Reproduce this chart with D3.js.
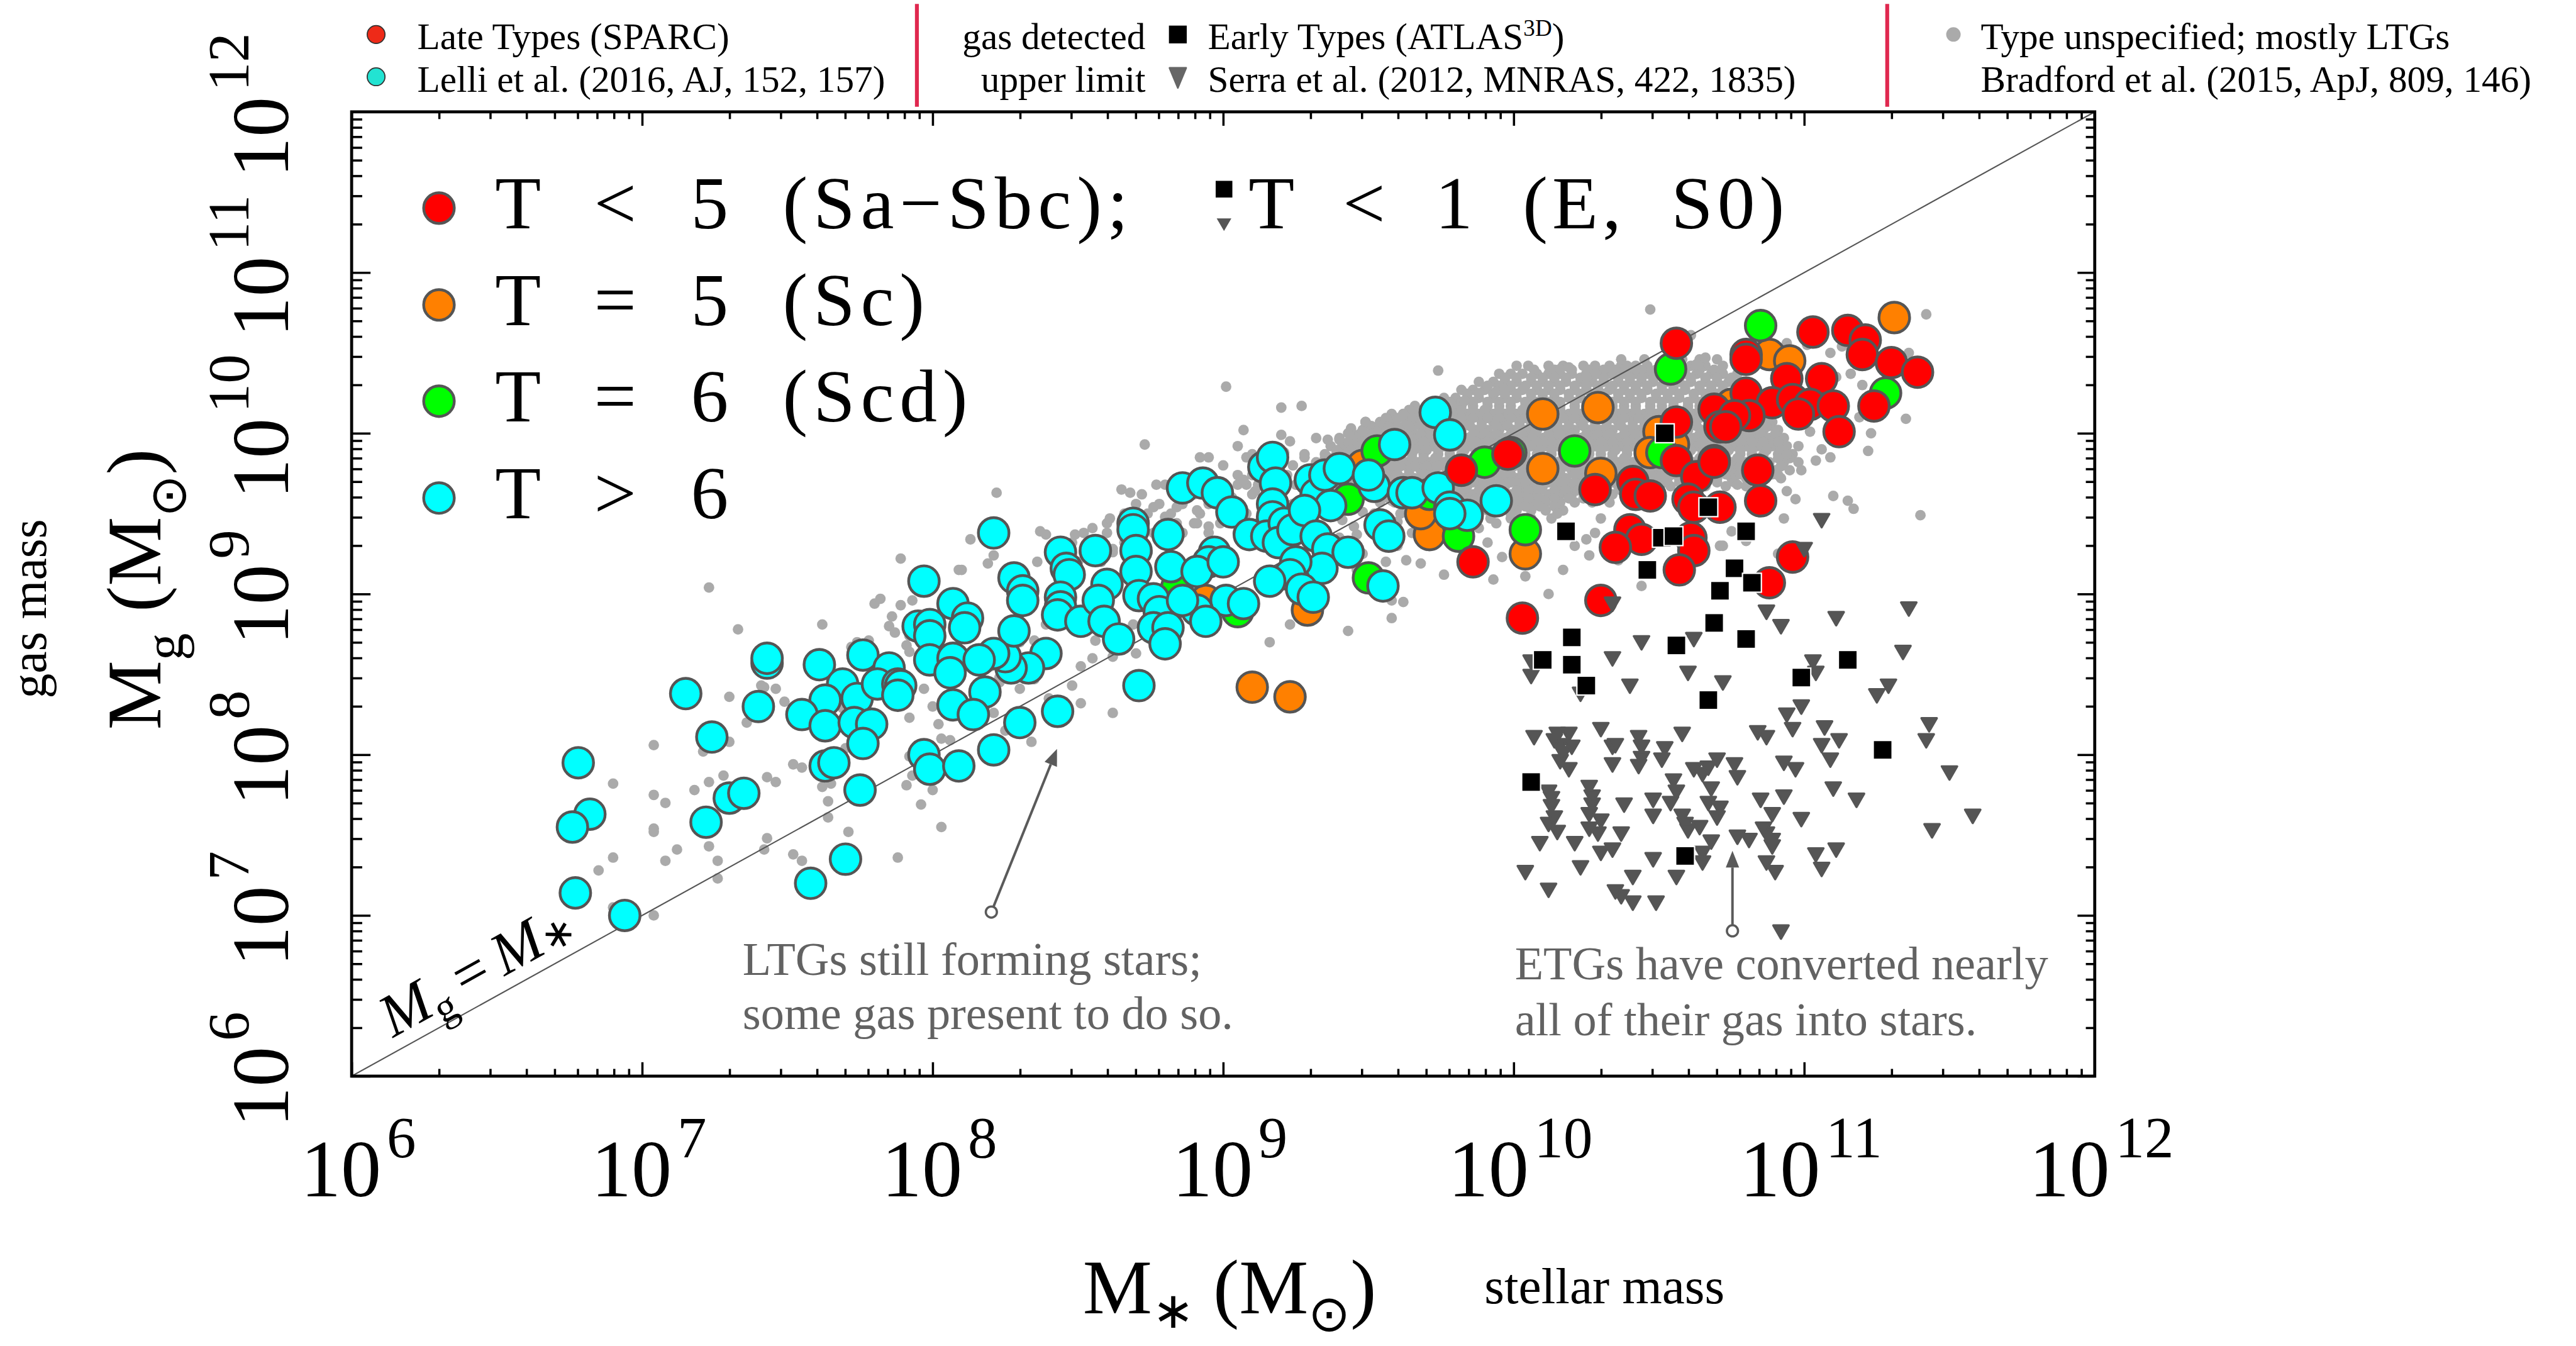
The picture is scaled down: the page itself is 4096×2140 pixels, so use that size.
<!DOCTYPE html>
<html><head><meta charset="utf-8">
<script src="https://cdn.jsdelivr.net/npm/d3@7/dist/d3.min.js"></script>
<style>
html,body{margin:0;padding:0;background:#fff;}
svg{display:block;}
text{font-family:'Liberation Serif','Times New Roman',serif;}
</style></head><body>
<svg id="chart" width="4096" height="2140"></svg>
<script>
// ---------------- DATA (log10 M*, log10 Mg) ----------------
const tickExponents = [6,7,8,9,10,11,12];

const cyanT6 = [
[7.97,9.08],[8.07,8.94],[7.95,8.80],[7.99,8.81],[7.99,8.74],[7.99,8.59],[8.07,8.60],[8.06,8.51],[8.07,8.31],
[7.43,8.57],[7.43,8.60],[7.61,8.56],[7.76,8.62],[7.69,8.44],[7.63,8.34],[7.74,8.35],[7.55,8.25],[7.63,8.18],[7.73,8.20],[7.79,8.19],[7.76,8.07],[7.85,8.54],[7.81,8.44],[7.88,8.44],[7.89,8.43],[7.88,8.37],
[7.15,8.38],[7.40,8.30],[7.24,8.11],[6.78,7.95],[6.82,7.63],[6.76,7.55],[6.77,7.14],[6.94,7.00],[7.22,7.58],[7.30,7.73],[7.35,7.76],[7.63,7.93],[7.66,7.95],[7.75,7.78],[7.70,7.35],[7.58,7.20],[7.97,8.00],[7.99,7.91],[8.09,7.93],
[8.21,9.38],[8.28,9.10],[8.31,9.02],[8.31,8.96],[8.44,9.26],[8.46,9.16],[8.47,9.12],[8.56,9.27],[8.44,8.98],[8.44,8.92],[8.43,8.87],[8.51,8.83],[8.60,9.06],[8.57,8.96],[8.59,8.83],[8.64,8.72],
[8.69,9.44],[8.69,9.40],[8.70,9.27],[8.70,9.14],[8.71,8.99],[8.76,8.97],[8.78,8.89],[8.76,8.79],[8.81,8.79],[8.80,8.69],[8.81,9.37],[8.82,9.17],[8.86,9.66],[8.93,9.69],[8.98,9.63],[9.03,9.51],[9.09,9.37],
[9.14,9.79],[9.17,9.85],[9.18,9.69],[9.17,9.56],[9.17,9.48],[9.15,9.36],[9.21,9.44],[9.19,9.32],[9.24,9.40],[9.30,9.71],[9.32,9.62],[9.37,9.55],[9.35,9.74],[9.28,9.52],[9.32,9.36],[9.36,9.28],[9.34,9.16],[9.25,9.20],[9.23,9.12],[9.16,9.08],[9.27,9.03],[9.31,8.98],
[8.97,9.26],[8.95,9.20],[8.91,9.14],[9.00,9.20],[9.01,8.96],[9.07,8.94],[8.91,8.90],[8.94,8.83],[8.86,8.96],[8.71,8.43],[8.43,8.27],[8.30,8.20],[8.21,8.03],
[8.39,8.63],[8.33,8.54],[8.27,8.54],[8.25,8.61],[8.28,8.77],[8.21,8.63],[8.18,8.39],[8.16,8.59],[8.12,8.85],[8.11,8.79],[8.14,8.25],
[9.73,10.13],[9.78,9.99],[9.59,9.93],[9.40,9.78],[9.52,9.67],[9.50,9.74],[9.62,9.63],[9.65,9.63],[9.74,9.66],[9.78,9.54],[9.84,9.49],[9.78,9.50],[9.94,9.58],[9.54,9.43],[9.57,9.36],[9.43,9.26],[9.55,9.05]
];

const greenT6 = [
[8.84,9.04],[9.05,8.89],[9.53,9.89],[9.43,9.59],[9.90,9.82],[9.99,9.88],[10.21,9.89],[10.04,9.40],[9.81,9.36],[9.50,9.10],[10.54,10.40],[10.51,9.88],[9.71,9.62],[10.85,10.67],[11.28,10.25]
];

const orangeT5 = [
[9.10,8.42],[9.23,8.36],[8.94,8.96],[9.29,8.90],[10.10,10.12],[10.29,10.16],[10.10,9.78],[10.30,9.75],[9.71,9.37],[9.68,9.50],[10.04,9.25],[10.50,10.01],[10.47,9.88],[10.55,9.93],[9.48,9.80],
[11.31,10.72],[10.88,10.49],[10.95,10.45],[10.75,10.18]
];

const redT5 = [
[10.56,10.56],[9.82,9.77],[9.98,9.87],[9.86,9.20],[10.03,8.85],[10.30,8.96],[10.28,9.65],[10.41,9.70],[10.42,9.62],[10.47,9.61],[10.40,9.40],[10.44,9.34],[10.35,9.29],
[10.56,10.07],[10.69,10.15],[10.71,10.04],[10.56,9.83],[10.63,9.73],[10.69,9.83],[10.60,9.59],[10.62,9.54],[10.61,9.35],[10.62,9.27],[10.57,9.15],[10.71,9.54],
[10.80,10.49],[10.80,10.46],[11.03,10.63],[11.15,10.64],[11.21,10.58],[11.20,10.49],[11.30,10.44],[11.39,10.38],[10.94,10.34],[11.06,10.34],[10.80,10.25],[10.89,10.19],[10.96,10.21],[11.02,10.18],[11.10,10.17],[10.98,10.12],[11.12,10.01],[11.24,10.17],[10.81,10.11],[10.76,10.11],[10.73,10.04],[10.69,9.82],[10.84,9.77],[10.85,9.58],[10.96,9.23],[10.88,9.07]
];

const etgDetected = [
[10.52,10.00],[10.67,9.54],[10.18,9.39],[10.51,9.35],[10.55,9.36],[10.46,9.15],[10.71,9.02],[10.69,8.82],[10.20,8.73],[10.10,8.59],[10.20,8.56],[10.25,8.43],[10.56,8.68],[10.80,9.39],[10.76,9.16],[10.82,9.07],[10.80,8.72],[11.15,8.59],[10.99,8.48],[10.67,8.34],[11.27,8.03],[10.06,7.83],[10.59,7.37]
];

const etgUpper = [
[10.34,8.95],[10.44,8.71],[10.34,8.61],[10.62,8.73],[10.60,8.52],[10.40,8.44],[10.06,8.50],[10.06,8.59],
[11.06,9.47],[11.00,9.29],[10.87,8.90],[10.92,8.81],[11.11,8.86],[11.36,8.92],[11.34,8.65],[11.03,8.59],[11.04,8.52],[10.72,8.46],[11.29,8.44],[11.25,8.38],[10.23,8.39],
[10.99,8.31],[10.94,8.26],[10.96,8.17],[11.43,8.20],[11.42,8.10],[11.07,8.18],[11.06,8.07],[11.12,8.10],[11.09,7.98],[10.84,8.15],[10.87,8.12],[10.93,7.96],[10.97,7.92],[11.50,7.90],[11.10,7.80],[11.18,7.73],[10.93,7.75],[10.85,7.73],[10.89,7.64],[10.99,7.61],[11.58,7.63],[11.44,7.54],[11.11,7.42],[11.04,7.39],[11.06,7.30],[10.87,7.34],[10.90,7.28],[10.87,7.52],[10.89,7.48],[10.77,7.50],[10.81,7.48],[10.92,6.91],
[10.07,8.12],[10.15,8.14],[10.19,8.14],[10.16,8.07],[10.20,8.06],[10.16,7.97],[10.19,7.92],[10.30,8.17],[10.34,8.06],[10.35,8.07],[10.34,7.95],[10.43,8.12],[10.44,8.06],[10.43,7.94],[10.52,8.05],[10.51,7.98],[10.58,8.14],
[10.26,7.81],[10.27,7.70],[10.26,7.64],[10.26,7.55],[10.29,7.52],[10.12,7.78],[10.13,7.69],[10.12,7.58],[10.15,7.53],[10.09,7.46],[10.21,7.46],[10.30,7.40],[10.34,7.42],[10.37,7.52],[10.48,7.73],[10.48,7.63],[10.38,7.70],[10.54,7.71],[10.55,7.85],[10.56,7.78],
[10.62,7.92],[10.65,7.89],[10.67,7.93],[10.70,7.98],[10.68,7.80],[10.76,7.95],[10.77,7.87],[10.67,7.71],[10.70,7.62],[10.59,7.58],[10.60,7.54],[10.64,7.56],[10.68,7.47],[10.65,7.34],[10.48,7.36],[10.56,7.25],[10.41,7.25],[10.37,7.13],[10.41,7.09],[10.49,7.09],[10.35,7.16],[10.23,7.31],[10.12,7.17],[10.04,7.28],[10.65,7.40],
[10.14,8.10],[10.17,8.02],[10.13,7.74],[10.14,7.62],[10.27,7.75],[10.30,7.60],[10.44,7.99],[10.58,7.63],[10.71,7.68],[10.86,7.55],[10.89,7.44]
];

// Bradford et al. individually resolved dots
const bradfordDots = [
[7.23,9.04],[7.33,8.78],[7.62,8.81],[7.80,8.94],[7.82,8.97],[7.89,8.93],[7.86,8.86],[7.85,8.80],[7.87,8.76],[7.91,8.68],[7.93,8.96],[7.74,8.70],[7.78,8.71],[7.72,8.67],[7.92,8.64],[7.92,8.74],[7.42,8.42],[7.46,8.41],[7.41,8.43],[7.30,8.36],[7.49,8.33],[7.36,8.20],[7.30,8.08],[7.21,8.02],[7.04,8.06],[7.67,8.33],[7.69,8.29],[7.97,8.41],[8.00,8.30],[7.92,8.23],[8.02,8.19],[8.03,8.10],[8.06,8.09],[7.92,7.99],[7.93,7.87],[7.91,7.81],[8.00,7.78],[7.96,7.69],[8.03,7.55],[7.88,7.36],[7.52,7.94],[7.55,7.92],[7.43,7.86],[7.46,7.83],[7.62,7.80],[7.65,7.82],[7.64,7.71],[7.64,7.61],[7.71,7.52],[7.70,8.04],[7.28,7.87],[7.23,7.83],[7.18,7.78],[7.04,7.75],[7.08,7.70],[6.90,7.82],[7.04,7.54],[7.04,7.52],[7.12,7.41],[7.23,7.43],[7.08,7.34],[7.26,7.34],[6.90,7.36],[6.85,7.28],[7.43,7.48],[7.42,7.41],[7.52,7.38],[7.55,7.34],[7.26,7.23],[7.04,7.00],[6.90,7.05],[8.09,9.15],[7.89,9.22],
[9.01,10.29],[9.20,10.16],[9.27,10.17],[9.07,10.02],[8.73,9.93],[8.92,9.85],[8.95,9.85],[9.05,9.92],[9.20,9.99],[9.23,9.95],[9.28,9.87],[9.32,9.97],[9.36,9.96],[8.77,9.68],[8.65,9.65],[8.68,9.63],[8.22,9.63],[8.76,9.54],[8.84,9.54],[8.91,9.52],[8.91,9.44],[8.88,9.60],[8.80,9.48],[8.95,9.42],[9.05,9.68],[9.07,9.71],[9.11,9.64],[9.03,9.60],[9.10,9.87],[9.21,9.88],[9.36,9.85],[8.61,9.47],[8.55,9.41],[8.49,9.37],[8.37,9.39],[8.39,9.37],[8.13,9.34],[8.21,9.24],[8.19,9.19],[8.10,9.15],[8.62,9.28],[9.07,9.44],
[9.23,8.81],[9.16,8.70],[8.62,8.26],[8.51,8.32],[8.48,8.43],[8.55,8.60],[8.51,8.55],[8.35,8.47],[8.34,8.08],[8.23,8.48],[8.21,8.39],[8.21,8.26],[8.56,8.71],[8.62,8.61],[8.39,8.81],[8.35,8.71],[8.34,8.61],[8.69,8.81],[8.70,8.63],
[8.16,8.20],[8.18,8.30],[8.23,8.45],[8.30,8.41],[8.40,8.35],[8.25,8.15],[8.20,8.55],[8.30,8.70],
[10.47,10.77],[9.74,10.39],[9.62,10.12],[9.49,10.07],[9.44,10.03],[9.40,9.96],[9.43,10.00],[9.48,10.01],[9.53,10.01],[9.57,10.04],[9.64,9.98],[9.66,9.90],[9.42,9.87],[9.47,9.81],[9.59,9.80],[9.44,9.55],[9.48,9.51],[9.61,9.50],[9.41,9.46],[9.46,9.37],[9.60,9.30],
[9.40,9.35],[9.45,9.42],[9.48,9.25],[9.52,9.50],[9.60,9.45],[9.65,9.38],[9.70,9.30],[9.38,9.50],[9.46,9.15],[9.58,9.58],[9.66,9.55],[9.72,9.48],
[9.83,10.20],[9.88,10.25],[9.94,10.26],[9.97,10.27],[10.16,10.40],[10.19,10.41],[10.28,10.37],[10.25,10.35],[10.39,10.42],[10.42,10.40],[10.66,10.47],[10.63,10.43],[10.61,10.61],
[9.76,9.12],[9.63,9.21],[9.68,9.19],[9.56,9.20],[9.58,8.96],[9.62,8.95],[9.58,8.85],[9.43,8.77],[9.93,9.09],[10.04,9.11],[10.12,9.00],[10.17,9.15],[10.26,9.24],[10.28,9.38],[10.30,9.47],[10.21,9.30],[10.15,9.50],[9.99,9.50],[9.94,9.44],[9.91,9.32],[10.44,9.05],[10.71,9.30],[10.36,9.21],[10.25,9.34],[9.88,9.41],[9.96,9.23],[10.07,9.39],
[11.42,10.74],[11.36,10.50],[11.16,10.37],[11.20,10.30],[11.19,10.10],[11.35,10.09],[11.23,10.00],[11.22,9.89],[11.09,9.85],[11.04,9.83],[10.99,9.77],[11.10,9.61],[11.15,9.58],[11.17,9.53],[11.40,9.49],[10.97,9.59],[10.94,9.64],[10.93,9.47],[10.75,9.39],[10.72,9.30],[10.80,9.33],[10.91,9.25],[10.91,9.74],[10.77,9.68],[11.09,10.50],[11.13,10.54],[11.01,10.55],[10.94,10.56],[11.08,10.34],[11.11,10.35],[11.02,10.01],[10.98,9.92],[11.06,9.90],[10.94,9.87],[10.87,10.04]
];

// Bradford et al. dense cloud, read row by row: [log Mg, [log M* ...]]
const bradfordCloudRows = [
[10.46,[10.37,10.45,10.52,10.58,10.64,10.70]],
[10.42,[10.01,10.05,10.12,10.17,10.24,10.28,10.33,10.37,10.42,10.46,10.51,10.57,10.61,10.66,10.72]],
[10.37,[9.95,9.99,10.03,10.08,10.12,10.16,10.20,10.25,10.29,10.33,10.38,10.42,10.46,10.50,10.55,10.59,10.63,10.68,10.72,10.77]],
[10.32,[9.88,9.93,9.97,10.01,10.06,10.10,10.14,10.18,10.23,10.27,10.31,10.36,10.40,10.44,10.48,10.53,10.57,10.61,10.66,10.70,10.74,10.79]],
[10.27,[9.82,9.86,9.90,9.95,9.99,10.03,10.08,10.12,10.16,10.21,10.25,10.29,10.33,10.38,10.42,10.46,10.51,10.55,10.59,10.64,10.68,10.72,10.77,10.81]],
[10.22,[9.76,9.80,9.84,9.88,9.93,9.97,10.01,10.06,10.10,10.14,10.19,10.23,10.27,10.31,10.36,10.40,10.44,10.49,10.53,10.57,10.62,10.66,10.70,10.75,10.79,10.83]],
[10.17,[9.66,9.71,9.75,9.79,9.82,9.86,9.91,9.95,9.99,10.04,10.08,10.12,10.16,10.21,10.25,10.29,10.34,10.38,10.42,10.47,10.51,10.55,10.60,10.64,10.68,10.73,10.77,10.81,10.86]],
[10.12,[9.58,9.62,9.67,9.71,9.75,9.80,9.84,9.88,9.93,9.97,10.01,10.06,10.10,10.14,10.19,10.23,10.27,10.32,10.36,10.40,10.45,10.49,10.53,10.58,10.62,10.66,10.71,10.75,10.79,10.84,10.88]],
[10.07,[9.49,9.54,9.58,9.63,9.67,9.71,9.76,9.80,9.84,9.89,9.93,9.97,10.02,10.06,10.10,10.15,10.19,10.23,10.28,10.32,10.36,10.41,10.45,10.49,10.54,10.58,10.62,10.67,10.71,10.75,10.80,10.84,10.89]],
[10.02,[9.44,9.48,9.52,9.57,9.61,9.65,9.70,9.74,9.78,9.82,9.87,9.91,9.95,10.00,10.04,10.08,10.13,10.17,10.21,10.26,10.30,10.34,10.39,10.43,10.47,10.52,10.56,10.60,10.65,10.69,10.73,10.78,10.82,10.86,10.91]],
[9.97,[9.40,9.45,9.49,9.53,9.58,9.62,9.66,9.71,9.75,9.79,9.84,9.88,9.92,9.97,10.01,10.05,10.10,10.14,10.18,10.23,10.27,10.31,10.36,10.40,10.44,10.49,10.53,10.57,10.62,10.66,10.70,10.75,10.79,10.83,10.88,10.93]],
[9.92,[9.37,9.41,9.46,9.50,9.54,9.59,9.63,9.67,9.72,9.76,9.80,9.85,9.89,9.93,9.98,10.02,10.06,10.11,10.15,10.19,10.24,10.28,10.32,10.37,10.41,10.45,10.50,10.54,10.58,10.63,10.67,10.71,10.76,10.80,10.84,10.89,10.94]],
[9.87,[9.35,9.39,9.43,9.48,9.52,9.56,9.61,9.65,9.69,9.74,9.78,9.82,9.87,9.91,9.95,10.00,10.04,10.08,10.13,10.17,10.21,10.26,10.30,10.34,10.39,10.43,10.47,10.52,10.56,10.60,10.65,10.69,10.73,10.78,10.82,10.86,10.91,10.96]],
[9.82,[9.32,9.37,9.41,9.45,9.50,9.54,9.58,9.63,9.67,9.71,9.76,9.80,9.84,9.89,9.93,9.97,10.02,10.06,10.10,10.15,10.19,10.23,10.28,10.32,10.36,10.41,10.45,10.49,10.54,10.58,10.62,10.67,10.71,10.75,10.80,10.84,10.88,10.93,10.98]],
[9.77,[9.33,9.38,9.42,9.46,9.51,9.55,9.59,9.64,9.68,9.72,9.77,9.81,9.85,9.90,9.94,9.98,10.03,10.07,10.11,10.16,10.20,10.24,10.29,10.33,10.37,10.42,10.46,10.50,10.55,10.59,10.63,10.68,10.72,10.76,10.81,10.85,10.90,10.95]],
[9.72,[9.36,9.40,9.45,9.49,9.53,9.58,9.62,9.66,9.71,9.75,9.79,9.84,9.88,9.92,9.97,10.01,10.05,10.10,10.14,10.18,10.23,10.27,10.31,10.36,10.40,10.44,10.49,10.53,10.57,10.62,10.66,10.70,10.75,10.80,10.86,10.92]],
[9.67,[9.41,9.45,9.50,9.54,9.58,9.63,9.67,9.71,9.76,9.80,9.84,9.89,9.93,9.97,10.02,10.06,10.10,10.15,10.19,10.23,10.28,10.32,10.36,10.41,10.45,10.49,10.54,10.60,10.66,10.73,10.80]],
[9.62,[9.46,9.51,9.55,9.60,9.64,9.68,9.73,9.77,9.81,9.86,9.90,9.94,9.99,10.03,10.07,10.12,10.16,10.20,10.25,10.29,10.34,10.40,10.46]],
[9.57,[9.54,9.59,9.63,9.68,9.72,9.76,9.81,9.85,9.89,9.94,9.98,10.02,10.07,10.11,10.16,10.21,10.27,10.33]],
[9.52,[9.66,9.71,9.76,9.81,9.86,9.91,9.96,10.01,10.06,10.11,10.17]],
[9.47,[9.78,9.85,9.92,9.99,10.06,10.13]],
[10.395,[10.07,10.14,10.20,10.26,10.31,10.35,10.40,10.44,10.49,10.54,10.59,10.64,10.69]],
[10.345,[9.97,10.01,10.06,10.10,10.14,10.18,10.23,10.27,10.31,10.36,10.40,10.44,10.48,10.53,10.57,10.61,10.66,10.70,10.75]],
[10.295,[9.91,9.95,9.99,10.04,10.08,10.12,10.16,10.21,10.25,10.29,10.34,10.38,10.42,10.46,10.51,10.55,10.59,10.64,10.68,10.72,10.77]],
[10.245,[9.84,9.88,9.93,9.97,10.01,10.06,10.10,10.14,10.19,10.23,10.27,10.31,10.36,10.40,10.44,10.49,10.53,10.57,10.62,10.66,10.70,10.75,10.79]],
[10.195,[9.73,9.78,9.82,9.86,9.91,9.95,9.99,10.04,10.08,10.12,10.16,10.21,10.25,10.29,10.34,10.38,10.42,10.47,10.51,10.55,10.60,10.64,10.68,10.73,10.77,10.81]],
[10.145,[9.64,9.69,9.73,9.77,9.82,9.86,9.90,9.95,9.99,10.03,10.08,10.12,10.16,10.21,10.25,10.29,10.34,10.38,10.42,10.47,10.51,10.55,10.60,10.64,10.68,10.73,10.77,10.81,10.86]],
[10.095,[9.56,9.60,9.65,9.69,9.73,9.78,9.82,9.86,9.91,9.95,9.99,10.04,10.08,10.12,10.17,10.21,10.25,10.30,10.34,10.38,10.43,10.47,10.51,10.56,10.60,10.64,10.69,10.73,10.77,10.82,10.86]],
[10.045,[9.51,9.55,9.60,9.64,9.68,9.72,9.77,9.81,9.85,9.89,9.94,9.98,10.02,10.06,10.11,10.15,10.19,10.24,10.28,10.32,10.37,10.41,10.45,10.50,10.54,10.58,10.63,10.67,10.71,10.76,10.80,10.84,10.88]],
[9.995,[9.47,9.51,9.55,9.60,9.64,9.68,9.73,9.77,9.81,9.86,9.90,9.94,9.99,10.03,10.07,10.12,10.16,10.20,10.25,10.29,10.33,10.38,10.42,10.46,10.51,10.55,10.59,10.64,10.68,10.72,10.77,10.81,10.85,10.90]],
[9.945,[9.43,9.48,9.52,9.56,9.61,9.65,9.69,9.74,9.78,9.82,9.87,9.91,9.95,10.00,10.04,10.08,10.13,10.17,10.21,10.26,10.30,10.34,10.39,10.43,10.47,10.52,10.56,10.60,10.65,10.69,10.73,10.78,10.82,10.86,10.91]],
[9.895,[9.39,9.44,9.48,9.52,9.57,9.61,9.65,9.70,9.74,9.78,9.83,9.87,9.91,9.96,10.00,10.04,10.09,10.13,10.17,10.22,10.26,10.30,10.35,10.39,10.43,10.48,10.52,10.56,10.61,10.65,10.69,10.74,10.78,10.82,10.87,10.92]],
[9.845,[9.35,9.39,9.43,9.47,9.52,9.56,9.60,9.65,9.69,9.73,9.78,9.82,9.86,9.91,9.95,9.99,10.04,10.08,10.12,10.17,10.21,10.25,10.30,10.34,10.38,10.43,10.47,10.51,10.56,10.60,10.64,10.69,10.73,10.77,10.82,10.86,10.91,10.95]],
[9.795,[9.35,9.40,9.44,9.48,9.53,9.57,9.61,9.66,9.70,9.74,9.79,9.83,9.87,9.92,9.96,10.00,10.05,10.09,10.13,10.18,10.22,10.26,10.31,10.35,10.39,10.44,10.48,10.52,10.57,10.61,10.65,10.70,10.74,10.78,10.83,10.87,10.92]],
[9.745,[9.38,9.43,9.47,9.51,9.56,9.60,9.64,9.69,9.73,9.77,9.82,9.86,9.90,9.95,9.99,10.03,10.08,10.12,10.16,10.21,10.25,10.29,10.34,10.38,10.42,10.47,10.51,10.55,10.60,10.64,10.68,10.73,10.78,10.83,10.89]],
[9.695,[9.43,9.47,9.52,9.56,9.60,9.65,9.69,9.73,9.78,9.82,9.86,9.91,9.95,9.99,10.04,10.08,10.12,10.17,10.21,10.25,10.30,10.34,10.38,10.43,10.47,10.52,10.57,10.63,10.70,10.76]],
[9.645,[9.49,9.53,9.57,9.62,9.66,9.70,9.75,9.79,9.83,9.88,9.92,9.96,10.01,10.05,10.09,10.14,10.18,10.22,10.27,10.31,10.37,10.43]],
[9.595,[9.57,9.61,9.66,9.70,9.74,9.79,9.83,9.87,9.92,9.96,10.00,10.05,10.09,10.14,10.19,10.24,10.30]],
[9.545,[9.69,9.74,9.79,9.84,9.89,9.94,9.99,10.04,10.09,10.14]],
[9.85,[9.08,9.20,9.28]],
[9.80,[9.00,9.12,9.24]],
[9.74,[8.93,9.05,9.10,9.22,9.27]],
[9.68,[8.80,8.88,8.96,9.08,9.12,9.25]],
[9.62,[8.72,8.84,8.90,9.00,9.10,9.20,9.30]],
[9.56,[8.70,8.78,8.86,8.95,9.05,9.24,9.33]],
[9.50,[8.66,8.74,8.82,8.92,9.00,9.08,9.26]],
[9.44,[8.60,8.70,8.84,8.90,8.99,9.12]],
[9.38,[8.52,8.60,8.76,8.86,8.95,9.05]],
[9.32,[8.48,8.56,8.66,8.80]],
[9.26,[8.44,8.52,8.62,8.74]],
[9.20,[8.36,8.50,8.58]]
];

// annotation anchors (log10 M*, log10 Mg)
const ltgArrow = {from:[8.202,7.021], to:[8.428,8.036]};
const etgArrow = {from:[10.753,6.904], to:[10.753,7.402]};
const ltgText = {at:[7.346,6.630], lines:['LTGs still forming stars;','some gas present to do so.'], dy2:97};
const etgText = {at:[10.004,6.602], lines:['ETGs have converted nearly','all of their gas into stars.'], dy2:101};
const oneToOneLabelAt = [6.165,6.165];

const legendLabels = ['T < 5 (Sa−Sbc);','T = 5 (Sc)','T = 6 (Scd)','T > 6'];
const legendColors = ['#ff0000','#ff8000','#00ff00','#00ffff'];
const legendExtraLabel = 'T < 1 (E, S0)';

// ---------------- DRAW ----------------
const S = 4096/4630;
const svg = d3.select('#chart');
const root = svg.append('g').attr('transform', `scale(${S})`);
const X0=632, X1=3765, YB=1934, YT=201;
const x = d3.scaleLog().domain([1e6,1e12]).range([X0,X1]);
const y = d3.scaleLog().domain([1e6,1e12]).range([YB,YT]);
const px = d => x(Math.pow(10,d[0]));
const py = d => y(Math.pow(10,d[1]));
const STROKE = '#555555';

root.append('defs').append('clipPath').attr('id','plotclip')
  .append('rect').attr('x',X0).attr('y',YT).attr('width',X1-X0).attr('height',YB-YT);
const plot = root.append('g').attr('clip-path','url(#plotclip)');

// gray Bradford dots
const cloud = bradfordCloudRows.flatMap(([ly, xs]) => xs.map(lx => [lx, ly]));
const gray = cloud.concat(bradfordDots);
plot.append('g').selectAll('circle').data(gray).join('circle')
  .attr('cx',px).attr('cy',py).attr('r',9.5).attr('fill','#aaaaaa');

// one-to-one line
plot.append('line').attr('x1',x(1e6)).attr('y1',y(1e6)).attr('x2',x(1e12)).attr('y2',y(1e12))
  .attr('stroke','#555').attr('stroke-width',2.4);

function bigCircles(data, color){
  plot.append('g').selectAll('circle').data(data).join('circle')
    .attr('cx',px).attr('cy',py).attr('r',27.5)
    .attr('fill',color).attr('stroke',STROKE).attr('stroke-width',5);
}
bigCircles(orangeT5,'#ff8000');
bigCircles(greenT6,'#00ff00');
bigCircles(cyanT6,'#00ffff');
bigCircles(redT5,'#ff0000');

const tri = d3.symbol().type(d3.symbolTriangle).size(330);
plot.append('g').selectAll('path').data(etgUpper).join('path')
  .attr('d',tri).attr('transform',d=>`translate(${px(d)},${py(d)}) rotate(180)`)
  .attr('fill','#555').attr('stroke','#555').attr('stroke-width',4).attr('stroke-linejoin','round');

plot.append('g').selectAll('rect').data(etgDetected).join('rect')
  .attr('x',d=>px(d)-17).attr('y',d=>py(d)-17).attr('width',34).attr('height',34)
  .attr('fill','#000').attr('stroke','#fff').attr('stroke-width',2.5);

// annotations
function arrow(a){
  const x1=px(a.from), y1=py(a.from), x2=px(a.to), y2=py(a.to);
  const ang=Math.atan2(y2-y1,x2-x1), L=30, W=12;
  const bx=x2-L*Math.cos(ang), by=y2-L*Math.sin(ang);
  root.append('line').attr('x1',x1).attr('y1',y1).attr('x2',bx).attr('y2',by)
    .attr('stroke','#5a5a5a').attr('stroke-width',4.5);
  root.append('path').attr('d',`M${x2},${y2}L${bx+W*Math.sin(ang)},${by-W*Math.cos(ang)}L${bx-W*Math.sin(ang)},${by+W*Math.cos(ang)}Z`)
    .attr('fill','#5a5a5a');
  root.append('circle').attr('cx',x1).attr('cy',y1).attr('r',10)
    .attr('fill','#fff').attr('stroke','#5a5a5a').attr('stroke-width',4);
}
arrow(ltgArrow); arrow(etgArrow);
[ltgText, etgText].forEach(t=>{
  t.lines.forEach((ln,i)=>{
    root.append('text').attr('x',px(t.at)).attr('y',py(t.at)+i*t.dy2)
      .attr('font-size',84).attr('fill','#626262').text(ln);
  });
});

// Mg = M* label
const ang = Math.atan2(y(1e6)-y(1e12), x(1e12)-x(1e6))*180/Math.PI;
const lab = root.append('text')
  .attr('transform',`translate(${px(oneToOneLabelAt)},${py(oneToOneLabelAt)}) rotate(${-ang}) translate(0,-24)`)
  .attr('font-size',108).attr('font-style','italic').attr('fill','#000');
lab.append('tspan').text('M');
lab.append('tspan').attr('font-style','normal').attr('font-size',76).attr('dy',22).text('g');
lab.append('tspan').attr('font-style','normal').attr('dy',-22).attr('dx',20).text('=');
lab.append('tspan').attr('dx',20).text('M');
lab.append('tspan').attr('font-style','normal').attr('font-size',74).attr('dy',4).text('∗');

// in-plot legend
const rowY = [374,548,721,895];
legendLabels.forEach((lb,i)=>{
  root.append('circle').attr('cx',789).attr('cy',rowY[i]).attr('r',27.5)
    .attr('fill',legendColors[i]).attr('stroke',STROKE).attr('stroke-width',5);
  root.append('text').attr('x',890).attr('y',rowY[i]+36).attr('font-size',135)
    .style('letter-spacing','10px').style('word-spacing','44px').text(lb);
});
root.append('rect').attr('x',2200-15).attr('y',340-15).attr('width',30).attr('height',30).attr('fill','#000');
root.append('path').attr('d',d3.symbol().type(d3.symbolTriangle).size(300))
  .attr('transform','translate(2200,400) rotate(180)').attr('fill','#555');
root.append('text').attr('x',2244).attr('y',410).attr('font-size',135)
  .style('letter-spacing','8px').style('word-spacing','40px').text(legendExtraLabel);

// frame
root.append('rect').attr('x',X0).attr('y',YT).attr('width',X1-X0).attr('height',YB-YT)
  .attr('fill','none').attr('stroke','#000').attr('stroke-width',5.4);

// ticks
const majors = tickExponents.map(e=>Math.pow(10,e));
const minors = [];
for (let e=6;e<12;e++) for (let k=2;k<=9;k++) minors.push(k*Math.pow(10,e));
function ticks(gen, tr, vals, size){
  const g = root.append('g').attr('transform',tr)
    .call(gen.tickValues(vals).tickSize(size).tickFormat(''));
  g.select('.domain').remove();
  g.selectAll('line').attr('stroke','#000').attr('stroke-width',4);
}
ticks(d3.axisBottom(x),`translate(0,${YB})`,majors,-25);
ticks(d3.axisBottom(x),`translate(0,${YB})`,minors,-13);
ticks(d3.axisTop(x),`translate(0,${YT})`,majors,-25);
ticks(d3.axisTop(x),`translate(0,${YT})`,minors,-13);
ticks(d3.axisLeft(y),`translate(${X0},0)`,majors,-34);
ticks(d3.axisLeft(y),`translate(${X0},0)`,minors,-19);
ticks(d3.axisRight(y),`translate(${X1},0)`,majors,-31);
ticks(d3.axisRight(y),`translate(${X1},0)`,minors,-16);

// tick labels
tickExponents.forEach(e=>{
  const t = root.append('text').attr('x',x(Math.pow(10,e))+12).attr('y',2150)
    .attr('text-anchor','middle').attr('font-size',145);
  t.append('tspan').text('10');
  t.append('tspan').attr('font-size',105).attr('dy',-70).attr('dx',10).text(e);
  const u = root.append('text').attr('transform',`translate(518,${y(Math.pow(10,e))-12}) rotate(-90)`)
    .attr('text-anchor','middle').attr('font-size',145);
  u.append('tspan').text('10');
  u.append('tspan').attr('font-size',105).attr('dy',-72).attr('dx',10).text(e);
});

// axis titles
const yt = root.append('text').attr('transform','translate(288,1059) rotate(-90)')
  .attr('text-anchor','middle').attr('font-size',140);
yt.append('tspan').text('M');
yt.append('tspan').attr('font-size',98).attr('dy',40).text('g');
yt.append('tspan').attr('dy',-40).attr('dx',38).text('(M');
yt.append('tspan').attr('font-size',90).attr('dy',45).text('⊙');
yt.append('tspan').attr('dy',-45).text(')');
root.append('text').attr('transform','translate(82,1094) rotate(-90)')
  .attr('text-anchor','middle').attr('font-size',90).text('gas mass');

const xt = root.append('text').attr('x',2210).attr('y',2360)
  .attr('text-anchor','middle').attr('font-size',140);
xt.append('tspan').text('M');
xt.append('tspan').attr('font-size',90).attr('dy',26).text('∗');
xt.append('tspan').attr('dy',-26).attr('dx',34).text('(M');
xt.append('tspan').attr('font-size',90).attr('dy',32).text('⊙');
xt.append('tspan').attr('dy',-32).text(')');
root.append('text').attr('x',2668).attr('y',2342).attr('font-size',92).text('stellar mass');

// top legend
const LFS = 67;
function ltxt(xp, yp, s, anchor){
  return root.append('text').attr('x',xp).attr('y',yp).attr('font-size',LFS)
    .attr('text-anchor',anchor||'start').text(s);
}
root.append('circle').attr('cx',676).attr('cy',62).attr('r',16).attr('fill','#ee2a18').attr('stroke','#333').attr('stroke-width',2);
root.append('circle').attr('cx',676).attr('cy',138).attr('r',16).attr('fill','#22e3d2').attr('stroke','#333').attr('stroke-width',2);
ltxt(750,88,'Late Types (SPARC)');
ltxt(750,165,'Lelli et al. (2016, AJ, 152, 157)');
[1648,3392].forEach(xx=>{
  root.append('line').attr('x1',xx).attr('x2',xx).attr('y1',7).attr('y2',192)
    .attr('stroke','#e0284f').attr('stroke-width',7);
});
ltxt(2059,88,'gas detected','end');
ltxt(2059,165,'upper limit','end');
root.append('rect').attr('x',2117-16).attr('y',62-16).attr('width',32).attr('height',32).attr('fill','#000');
root.append('path').attr('d','M2102,122L2132,122L2117,158Z').attr('fill','#666').attr('stroke','#666').attr('stroke-width',3).attr('stroke-linejoin','round');
const et = ltxt(2171,88,'Early Types (ATLAS');
et.append('tspan').attr('font-size',42).attr('dy',-24).text('3D');
et.append('tspan').attr('dy',24).text(')');
ltxt(2171,165,'Serra et al. (2012, MNRAS, 422, 1835)');
root.append('circle').attr('cx',3511).attr('cy',62).attr('r',13).attr('fill','#aaaaaa');
ltxt(3560,88,'Type unspecified; mostly LTGs');
ltxt(3560,165,'Bradford et al. (2015, ApJ, 809, 146)');
</script></body></html>
